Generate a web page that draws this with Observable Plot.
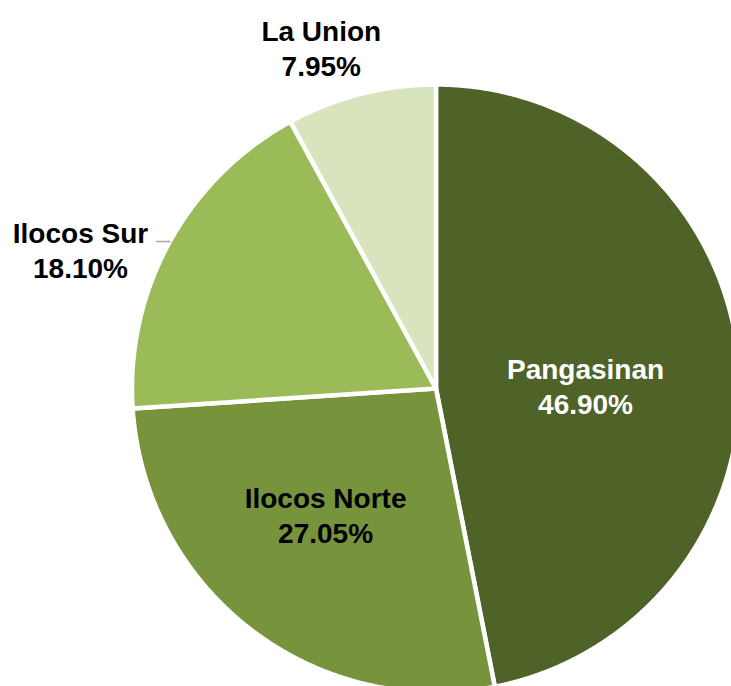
<!DOCTYPE html>
<html>
<head>
<meta charset="utf-8">
<script src="https://cdn.jsdelivr.net/npm/d3@7"></script>
<script src="https://cdn.jsdelivr.net/npm/@observablehq/plot@0.6"></script>
<style>
  html, body { margin: 0; padding: 0; overflow: hidden; background: #fff; }
  #chart svg { overflow: hidden; display: block; }
</style>
</head>
<body>
<div id="chart"></div>
<script>
// ---- data ----
const provinces = ["Pangasinan", "Ilocos Norte", "Ilocos Sur", "La Union"];
const shares = [46.90, 27.05, 18.10, 7.95];
const sliceColors = ["#4f6228", "#77933c", "#9bbb59", "#d7e4bd"];
const labelColors = ["#ffffff", "#000000", "#000000", "#000000"];

// ---- label layout (polar position in pie-radius units, angle clockwise from 12 o'clock) ----
const labelLayout = [
  {r: 0.492, theta: 88.85},
  {r: 0.551, theta: 221.25},
  {r: 1.256, theta: 291.4},
  {r: 1.183, theta: 341.4}
];

// ---- geometry from values ----
const total = d3.sum(shares);
let cum = 0;
const slices = provinces.map((name, i) => {
  const a0 = cum / total * 2 * Math.PI;
  cum += shares[i];
  const a1 = cum / total * 2 * Math.PI;
  return {name, value: shares[i], a0, a1};
});
const pts = [];
for (const s of slices) {
  pts.push({name: s.name, x: 0, y: 0});
  const n = Math.max(2, Math.ceil((s.a1 - s.a0) / (Math.PI / 720)));
  for (let k = 0; k <= n; k++) {
    const a = s.a0 + (s.a1 - s.a0) * k / n;
    pts.push({name: s.name, x: Math.sin(a), y: Math.cos(a)});
  }
  pts.push({name: s.name, x: 0, y: 0});
}
const labels = slices.map((s, i) => {
  const t = labelLayout[i].theta * Math.PI / 180;
  return {
    text: `${s.name}\n${s.value.toFixed(2)}%`,
    x: labelLayout[i].r * Math.sin(t),
    y: labelLayout[i].r * Math.cos(t),
    color: labelColors[i]
  };
});
// leader line for Ilocos Sur: horizontal from label to pie edge
const leaderY = 0.4836;
const leader = [
  {x: -0.919, y: leaderY},
  {x: -Math.sqrt(1 - leaderY * leaderY), y: leaderY}
];

const chart = Plot.plot({
  width: 731,
  height: 686,
  margin: 0,
  x: {domain: [-1, 1], range: [131.5, 739.5], axis: null},
  y: {domain: [-1, 1], range: [692, 84], axis: null},
  color: {domain: provinces, range: sliceColors},
  style: {background: "#fff", overflow: "hidden"},
  marks: [
    Plot.line(pts, {x: "x", y: "y", z: "name", fill: "name", stroke: "#fff", strokeWidth: 4.5, strokeLinejoin: "round"}),
    Plot.line(leader, {x: "x", y: "y", stroke: "#a6a6a6", strokeWidth: 1.5}),
    Plot.text(labels, {
      x: "x", y: "y", text: "text", fill: d => d.color,
      fontSize: 28, fontWeight: "bold", fontFamily: "Liberation Sans, Arial, sans-serif",
      lineHeight: 1.25, textAnchor: "middle", lineAnchor: "middle"
    })
  ]
});
document.getElementById("chart").appendChild(chart);
</script>
</body>
</html>
